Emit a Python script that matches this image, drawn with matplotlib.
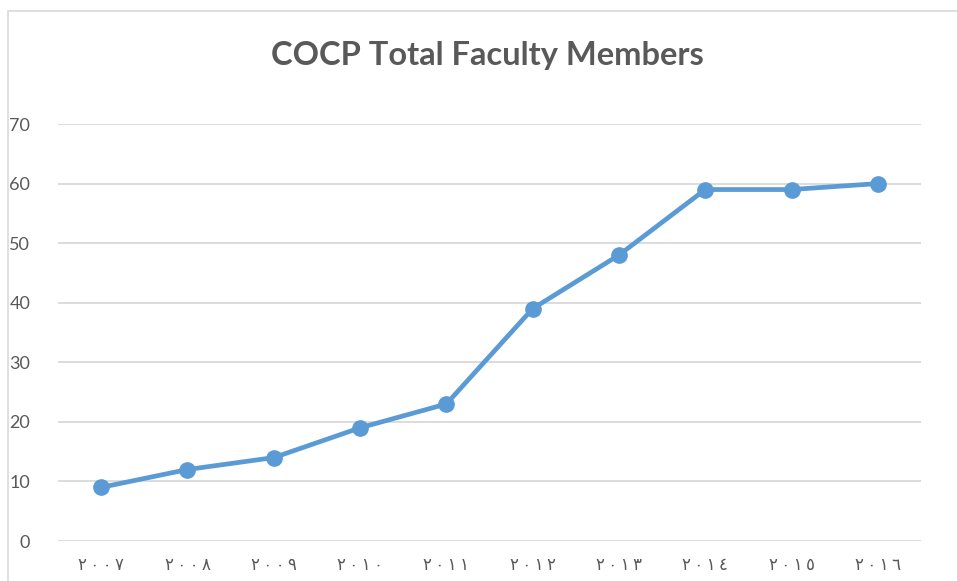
import matplotlib
matplotlib.use("Agg")
import matplotlib.pyplot as plt
from matplotlib.patches import Rectangle

years = ["٢٠٠٧", "٢٠٠٨", "٢٠٠٩", "٢٠١٠", "٢٠١١", "٢٠١٢", "٢٠١٣", "٢٠١٤", "٢٠١٥", "٢٠١٦"]
members = [9, 12, 14, 19, 23, 39, 48, 59, 59, 60]
yticks = [0, 10, 20, 30, 40, 50, 60, 70]
title = "COCP Total Faculty Members"

plt.rcParams['font.family'] = ['Lato', 'DejaVu Sans']

fig = plt.figure(figsize=(9.57, 5.81), dpi=100)
fig.patches.append(Rectangle((8/957, -0.1), 1.0, (581-11)/581 + 0.1, transform=fig.transFigure,
                             fill=False, edgecolor="#D9D9D9", linewidth=1.2))
ax = fig.add_axes([58/957, 40/581, (921-58)/957, (541-124)/581])

x = list(range(len(years)))
ax.plot(x, members, color="#5B9BD5", linewidth=3.4, marker="o", markersize=11,
        markerfacecolor="#5B9BD5", markeredgecolor="#5B9BD5", zorder=3)

ax.set_xlim(-0.5, len(years) - 0.5)
ax.set_ylim(0, 70)
ax.set_yticks(yticks)
ax.set_xticks(x)
shown = ["\u2009".join(y) for y in years]
ax.set_xticklabels(shown, family=['DejaVu Sans'], fontsize=12, color="#595959")
ax.tick_params(axis='y', labelsize=13, colors="#595959", length=0, pad=20)
ax.tick_params(axis='x', length=0, pad=11)
ax.grid(axis='y', color="#D9D9D9", linewidth=1.3)
ax.set_axisbelow(True)
for s in ax.spines.values():
    s.set_visible(False)

fig.text(487/957, 1 - 56/581, title, ha="center", va="center", fontsize=23.5,
         fontweight="bold", color="#595959")

fig.savefig("out.png", dpi=100)
